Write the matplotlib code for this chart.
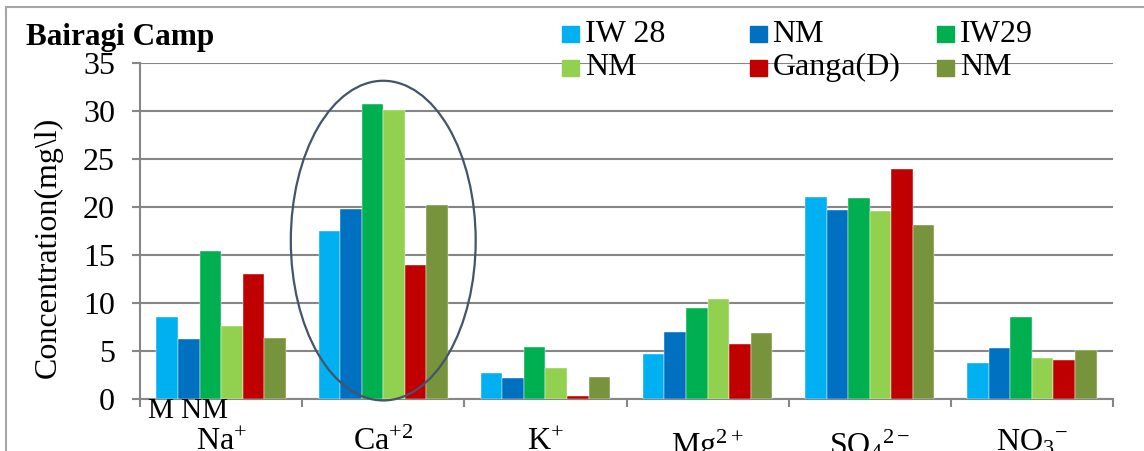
import numpy as np
import matplotlib
matplotlib.use('Agg')
import matplotlib.pyplot as plt
from matplotlib.patches import Ellipse, Rectangle

plt.rcParams['font.family'] = ['Liberation Serif', 'DejaVu Serif']
plt.rcParams['mathtext.fontset'] = 'custom'
plt.rcParams['mathtext.rm'] = 'Liberation Serif'
plt.rcParams['mathtext.it'] = 'Liberation Serif:italic'
plt.rcParams['mathtext.bf'] = 'Liberation Serif:bold'

# ions on the x axis
ions = ['Na$^{+}$', 'Ca$^{+2}$', 'K$^{+}$', 'Mg$^{2+}$',
        'SO$_4$$^{2-}$', 'NO$_3$$^{-}$']

# series (legend order)
series_names = ['IW 28', 'NM', 'IW29', 'NM', 'Ganga(D)', 'NM']
series_colors = ['#00B0F0', '#0070C0', '#00B050', '#92D050', '#C00000', '#77933C']

iw28 = [8.5, 17.5, 2.7, 4.7, 21.0, 3.8]
nm_1 = [6.3, 19.8, 2.2, 7.0, 19.7, 5.3]
iw29 = [15.4, 30.7, 5.4, 9.5, 20.9, 8.5]
nm_2 = [7.6, 30.1, 3.2, 10.4, 19.6, 4.3]
ganga = [13.0, 14.0, 0.3, 5.7, 24.0, 4.1]
nm_3 = [6.4, 20.2, 2.3, 6.9, 18.1, 5.1]
values = [iw28, nm_1, iw29, nm_2, ganga, nm_3]

W, H = 1144, 451
fig = plt.figure(figsize=(W / 100, H / 100), dpi=100)
fig.patch.set_facecolor('white')

# outer chart frame (partly cropped in the reference)
fig.add_artist(Rectangle((6 / W, -0.1), 1.2, 1 - 7 / H + 0.1,
                         transform=fig.transFigure, fill=False,
                         edgecolor='#A6A6A6', linewidth=1.5))

ax = fig.add_axes([140 / W, 1 - 399 / H, (1113 - 140) / W, (399 - 63) / H])
grid_col = '#868686'

x = np.arange(len(ions))
bw = 0.133
for i, (vals, col) in enumerate(zip(values, series_colors)):
    ax.bar(x + (i - 2.5) * bw, vals, width=bw, color=col, zorder=3,
           edgecolor='white', linewidth=0.3)

ax.set_xlim(-0.5, len(ions) - 0.5)
ax.set_ylim(0, 35)
ax.set_yticks(range(0, 36, 5))
ax.tick_params(axis='y', labelsize=23, length=6, width=1.5, color=grid_col, pad=12)
ax.yaxis.grid(True, color=grid_col, linewidth=1.5, zorder=0)
ax.set_axisbelow(True)

ax.set_xticks(x)
ax.set_xticklabels(ions, fontsize=23)
ax.tick_params(axis='x', length=0, pad=21)
ax.set_xticks(np.arange(-0.5, len(ions), 1), minor=True)
ax.tick_params(axis='x', which='minor', length=6, width=1.5, color=grid_col)

for s in ['top', 'right']:
    ax.spines[s].set_visible(False)
for s in ['left', 'bottom']:
    ax.spines[s].set_color(grid_col)
    ax.spines[s].set_linewidth(1.5)

ax.set_ylabel('Concentration(mg\\l)', fontsize=23)
ax.yaxis.set_label_coords((63 - 140) / (1113 - 140), 0.45)

# highlight around Ca
ax.add_patch(Ellipse((1, 16.5), 1.14, 33.3, fill=False, edgecolor='#44546A',
                     linewidth=1.6, zorder=5, clip_on=False))

fig.text(26 / W, 1 - 37 / H, 'Bairagi Camp', fontsize=22.5, fontweight='bold',
         va='center', ha='left')
fig.text(148 / W, 1 - 411 / H, 'M NM', fontsize=21, va='center', ha='left')

# legend, three columns, filled row by row
for i, (name, col) in enumerate(zip(series_names, series_colors)):
    r, c = divmod(i, 3)
    lx = 562 + c * 187.5
    ly = 34 + r * 33.5
    fig.add_artist(Rectangle((lx / W, 1 - (ly + 8) / H), 17 / W, 16 / H,
                             transform=fig.transFigure, color=col))
    fig.text((lx + 23) / W, 1 - ly / H, name, fontsize=23, va='center', ha='left')

fig.savefig('out.png', dpi=100)
